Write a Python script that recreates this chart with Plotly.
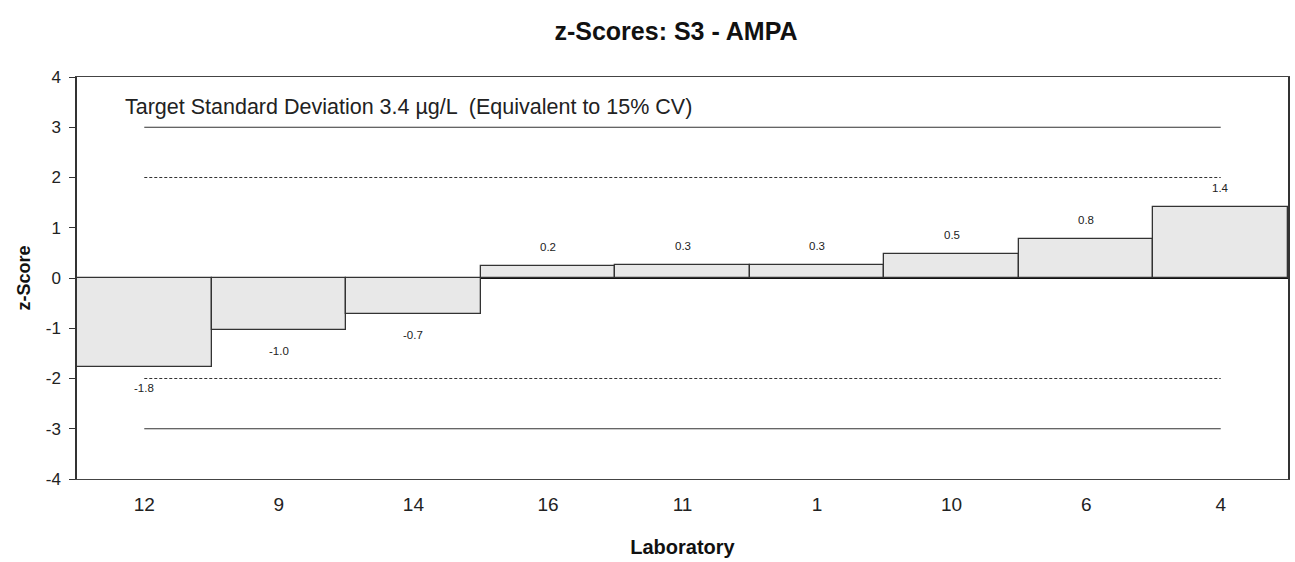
import plotly.graph_objects as go

# Laboratory z-scores, sorted ascending
labs = ["12", "9", "14", "16", "11", "1", "10", "6", "4"]
z_scores = [-1.78, -1.04, -0.72, 0.23, 0.26, 0.26, 0.47, 0.78, 1.42]

# Action / warning limits
action_limit = 3
warning_limit = 2

y_ticks = [4, 3, 2, 1, 0, -1, -2, -3, -4]
y_tick_text = ["4", "3", "2", "1", "0", "-1", "-2", "-3", "-4"]

FONT = "Liberation Sans, Arial, sans-serif"
pos = list(range(len(labs)))

fig = go.Figure()

fig.add_trace(go.Bar(
    x=pos, y=z_scores, width=1,
    marker=dict(color="#e8e8e8", line=dict(color="#333333", width=1.3)),
    hoverinfo="x+y", showlegend=False,
))

# Limit lines spanning first to last laboratory
x_span = [pos[0], pos[-1]]
for lim, dash in [(action_limit, "solid"), (-action_limit, "solid"),
                  (warning_limit, "3px,2px"), (-warning_limit, "3px,2px")]:
    fig.add_trace(go.Scatter(
        x=x_span, y=[lim, lim], mode="lines",
        line=dict(color="#333333", width=1, dash=dash),
        hoverinfo="skip", showlegend=False,
    ))

# Value labels above / below each bar
for xi, v in zip(pos, z_scores):
    fig.add_annotation(
        x=xi, y=v, text=f"{v:.1f}", showarrow=False,
        yshift=19 if v >= 0 else -21,
        font=dict(family=FONT, size=11.5, color="#222222"),
    )

fig.add_annotation(
    xref="paper", yref="y", x=0.038, y=3.4, xanchor="left", yanchor="middle",
    text="Target Standard Deviation 3.4 µg/L  (Equivalent to 15% CV)",
    showarrow=False, font=dict(family=FONT, size=21.5, color="#222222"),
)

fig.update_layout(
    width=1295, height=562,
    margin=dict(l=77, r=5, t=77, b=83),
    paper_bgcolor="white", plot_bgcolor="white",
    bargap=0,
    font=dict(family=FONT, color="#222222"),
    title=dict(
        text="<b>z-Scores: S3 - AMPA</b>",
        x=0.522, xanchor="center", y=0.945, yanchor="middle",
        font=dict(family=FONT, size=25, color="#111111"),
    ),
)

fig.update_xaxes(
    range=[-0.5, len(labs) - 0.5],
    tickmode="array", tickvals=pos, ticktext=labs,
    showgrid=False, zeroline=False,
    showline=True, linecolor="#444444", linewidth=1.2, mirror=True,
    ticks="", ticklabelstandoff=8,
    tickfont=dict(family=FONT, size=19, color="#222222"),
    title=dict(text="<b>Laboratory</b>", standoff=26,
               font=dict(family=FONT, size=20, color="#111111")),
)

fig.update_yaxes(
    range=[-4, 4],
    tickmode="array", tickvals=y_ticks, ticktext=y_tick_text,
    showgrid=False,
    zeroline=True, zerolinecolor="#111111", zerolinewidth=1.5,
    showline=True, linecolor="#333333", linewidth=1.5, mirror=True,
    ticks="outside", ticklen=6, tickcolor="#333333", ticklabelstandoff=5,
    tickfont=dict(family=FONT, size=17, color="#222222"),
    title=dict(text="<b>z-Score</b>", standoff=10,
               font=dict(family=FONT, size=18, color="#111111")),
)

fig.write_html("out.html")
